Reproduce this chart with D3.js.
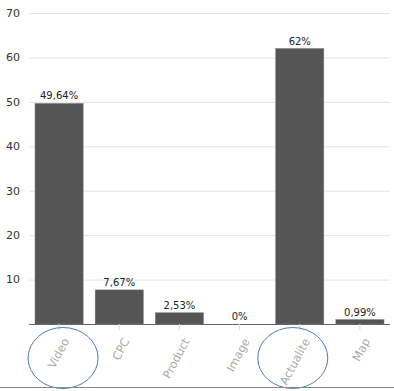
<!DOCTYPE html>
<html>
<head>
<meta charset="utf-8">
<script src="https://cdn.jsdelivr.net/npm/d3@7"></script>
<style>
  body { margin: 0; background: #fff; }
  svg { display: block; font-family: "DejaVu Sans", Verdana, sans-serif; }
</style>
</head>
<body>
<svg width="394" height="391"></svg>
<script>
const categories = ["Video", "CPC", "Product", "Image", "Actualite", "Map"];
const values = [49.64, 7.67, 2.53, 0, 62, 0.99];
const valueLabels = ["49,64%", "7,67%", "2,53%", "0%", "62%", "0,99%"];
const yTicks = [10, 20, 30, 40, 50, 60, 70];
const circled = ["Video", "Actualite"];

const svg = d3.select("svg"),
  width = +svg.attr("width"),
  height = +svg.attr("height");

const margin = {top: 13, right: 4, bottom: 67, left: 29};

const x = d3.scaleBand()
  .domain(categories)
  .range([margin.left, width - margin.right])
  .paddingInner(0.2)
  .paddingOuter(0.1);

const y = d3.scaleLinear()
  .domain([0, 70])
  .range([height - margin.bottom, margin.top]);

// grid
svg.append("g")
  .selectAll("line")
  .data(yTicks)
  .join("line")
    .attr("x1", margin.left)
    .attr("x2", width - margin.right)
    .attr("y1", d => y(d) + 0.5)
    .attr("y2", d => y(d) + 0.5)
    .attr("stroke", "#e3e3e3");

svg.append("g")
  .selectAll("text")
  .data(yTicks)
  .join("text")
    .attr("x", 20)
    .attr("y", d => y(d))
    .attr("dy", "0.35em")
    .attr("text-anchor", "end")
    .attr("font-size", 11)
    .attr("fill", "#333")
    .text(d => d);

// bars
svg.append("g")
  .selectAll("rect")
  .data(values)
  .join("rect")
    .attr("x", (d, i) => x(categories[i]))
    .attr("y", d => y(d))
    .attr("width", x.bandwidth())
    .attr("height", d => y(0) - y(d))
    .attr("fill", "#555")
    .attr("stroke", "#777")
    .attr("stroke-width", 0.5);

svg.append("g")
  .selectAll("text")
  .data(values)
  .join("text")
    .attr("x", (d, i) => x(categories[i]) + x.bandwidth() / 2)
    .attr("y", d => y(d) - 4)
    .attr("text-anchor", "middle")
    .attr("font-size", 10)
    .attr("fill", "#222")
    .text((d, i) => valueLabels[i]);

// x axis
const xAxis = svg.append("g")
  .attr("transform", `translate(0,${y(0)})`)
  .call(d3.axisBottom(x).tickSize(6).tickPadding(0));

xAxis.select(".domain").attr("stroke", "#666").attr("d", `M${margin.left},0.5H${width - margin.right}`);
xAxis.selectAll(".tick line").attr("stroke", "#ddd");
xAxis.selectAll(".tick text")
  .attr("font-size", 11.5)
  .attr("font-family", "DejaVu Sans, Verdana, sans-serif")
  .attr("fill", "#aaa")
  .attr("text-anchor", "end")
  .attr("dy", "0.35em")
  .attr("transform", "translate(7,15) rotate(-62)")
  .attr("y", 0);

// annotation ellipses
svg.append("g")
  .selectAll("ellipse")
  .data(circled)
  .join("ellipse")
    .attr("cx", d => x(d) + x.bandwidth() / 2 + (d === "Video" ? 4 : -7))
    .attr("cy", 358)
    .attr("rx", 35)
    .attr("ry", 30.5)
    .attr("fill", "none")
    .attr("stroke", "#4a7cc0")
    .attr("stroke-width", 1);

// bottom border
svg.append("line")
  .attr("x1", 0).attr("x2", width)
  .attr("y1", 387.5).attr("y2", 387.5)
  .attr("stroke", "#888");
</script>
</body>
</html>
